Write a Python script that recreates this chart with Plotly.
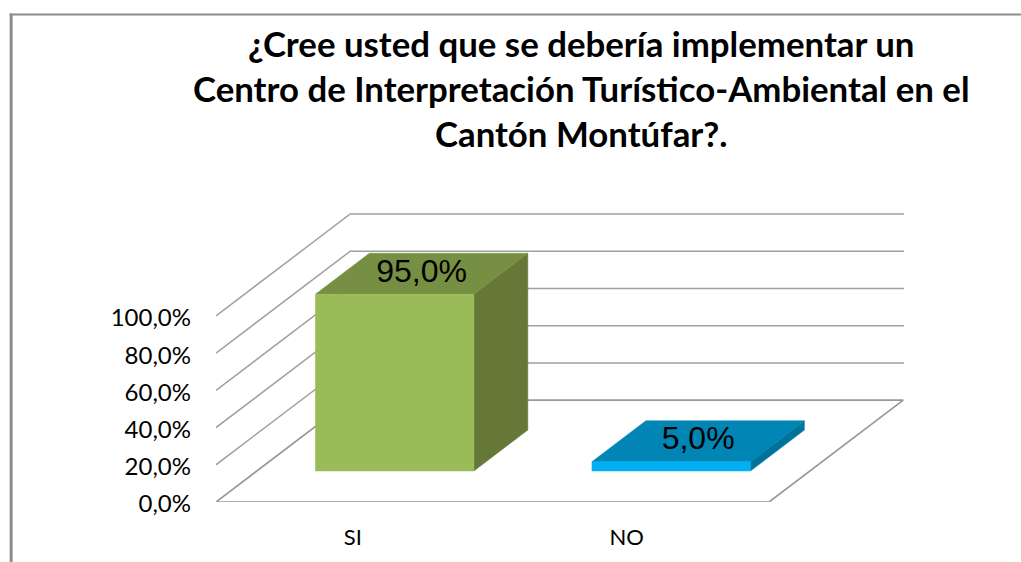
import plotly.graph_objects as go

# ---- data ----
categories = ["SI", "NO"]
shares = [0.95, 0.05]
value_ticks = [0.0, 0.2, 0.4, 0.6, 0.8, 1.0]
title_lines = [
    "¿Cree usted que se debería implementar un",
    "Centro de Interpretación Turístico-Ambiental en el",
    "Cantón Montúfar?.",
]
front_colors = ["#9BBB59", "#00B0F0"]
top_colors = ["#778F42", "#0085B5"]
side_colors = ["#667837", "#00739D"]
category_label_positions = [0.495, 1.485]

# ---- oblique 3-D look built on ordinary x / y axes ----
W, H = 1021, 562
M_L, M_R, M_T, M_B = 215.5, 117, 212.7, 60
DEPTH_X, DEPTH_Y = 0.4853, 0.5475      # shift of the back of the floor, in axis units
BAR_NEAR, BAR_FAR = 0.304, 0.706       # bar position within the depth
BAR_HALF = 0.2865
X_MAX, Y_MAX = 2.488, 1.553
GRID = "#A0A0A0"


def project(x, value, depth):
    return x + DEPTH_X * depth, value + DEPTH_Y * depth


def poly(points, color):
    xs = [project(*p)[0] for p in points] + [project(*points[0])[0]]
    ys = [project(*p)[1] for p in points] + [project(*points[0])[1]]
    return go.Scatter(x=xs, y=ys, mode="lines", fill="toself", fillcolor=color,
                      line=dict(color=color, width=0.5), hoverinfo="skip", showlegend=False)


fig = go.Figure()

# back wall and side wall gridlines
for v in value_ticks[1:]:
    p0 = project(0, v, 0)
    p1 = project(0, v, 1)
    fig.add_trace(go.Scatter(x=[p0[0], p1[0], X_MAX], y=[p0[1], p1[1], p1[1]], mode="lines",
                             line=dict(color=GRID, width=1.5), hoverinfo="skip", showlegend=False))

# floor
n = len(categories)
floor = [project(0, 0, 0), project(n, 0, 0), project(n, 0, 1), project(0, 0, 1), project(0, 0, 0)]
fig.add_trace(go.Scatter(x=[p[0] for p in floor], y=[p[1] for p in floor], mode="lines",
                         line=dict(color="#999999", width=1.7), hoverinfo="skip", showlegend=False))

# bars
for i, v in enumerate(shares):
    x0, x1 = i + 0.4985 - BAR_HALF, i + 0.4985 + BAR_HALF
    fig.add_trace(poly([(x1, 0, BAR_NEAR), (x1, 0, BAR_FAR), (x1, v, BAR_FAR), (x1, v, BAR_NEAR)], side_colors[i]))
    fig.add_trace(poly([(x0, v, BAR_NEAR), (x1, v, BAR_NEAR), (x1, v, BAR_FAR), (x0, v, BAR_FAR)], top_colors[i]))
    fig.add_trace(poly([(x0, 0, BAR_NEAR), (x1, 0, BAR_NEAR), (x1, v, BAR_NEAR), (x0, v, BAR_NEAR)], front_colors[i]))
    lx, ly = project(i + 0.4985, v, (BAR_NEAR + BAR_FAR) / 2)
    fig.add_trace(go.Scatter(x=[lx], y=[ly], mode="text", text=[f"{v * 100:.1f}%".replace(".", ",")],
                             textposition="middle center",
                             textfont=dict(family="Liberation Sans", size=32, color="#000000"),
                             hoverinfo="skip", showlegend=False))


def px_x(p):
    return (p - M_L) / (W - M_L - M_R)


def px_y(p):
    return 1 - (p - M_T) / (H - M_T - M_B)


# outer frame of the chart
frame = "#8C8C8C"
shapes = [
    dict(type="line", xref="paper", yref="paper", x0=px_x(9), x1=px_x(W), y0=px_y(14), y1=px_y(14),
         line=dict(color=frame, width=2)),
    dict(type="line", xref="paper", yref="paper", x0=px_x(10.5), x1=px_x(10.5), y0=px_y(13), y1=px_y(H),
         line=dict(color=frame, width=3)),
]

annotations = [
    dict(text=t, xref="paper", yref="paper", x=px_x(581), y=px_y(yc), xanchor="center", yanchor="middle",
         showarrow=False, font=dict(family="Lato", size=34.8, color="#000000", weight="bold"))
    for t, yc in zip(title_lines, [43, 88, 133])
]

fig.update_layout(
    width=W, height=H, autosize=False,
    margin=dict(l=M_L, r=M_R, t=M_T, b=M_B, pad=0),
    paper_bgcolor="#FFFFFF", plot_bgcolor="#FFFFFF",
    separators=", ",
    shapes=shapes, annotations=annotations,
    showlegend=False,
    xaxis=dict(range=[0, X_MAX], tickmode="array", tickvals=category_label_positions, ticktext=categories,
               showgrid=False, zeroline=False, showline=False, ticks="", ticklabelstandoff=20,
               tickfont=dict(family="Lato", size=22, color="#000000")),
    yaxis=dict(range=[0, Y_MAX], tickmode="array", tickvals=value_ticks, tickformat=".1%",
               showgrid=False, zeroline=False, showline=False, ticks="", ticklabelstandoff=24,
               ticklabelshift=2,
               tickfont=dict(family="Lato", size=24, color="#000000")),
)

fig.write_html("out.html", config={"displayModeBar": False},
               post_script="document.body.style.margin='0';document.body.style.overflow='hidden';")
